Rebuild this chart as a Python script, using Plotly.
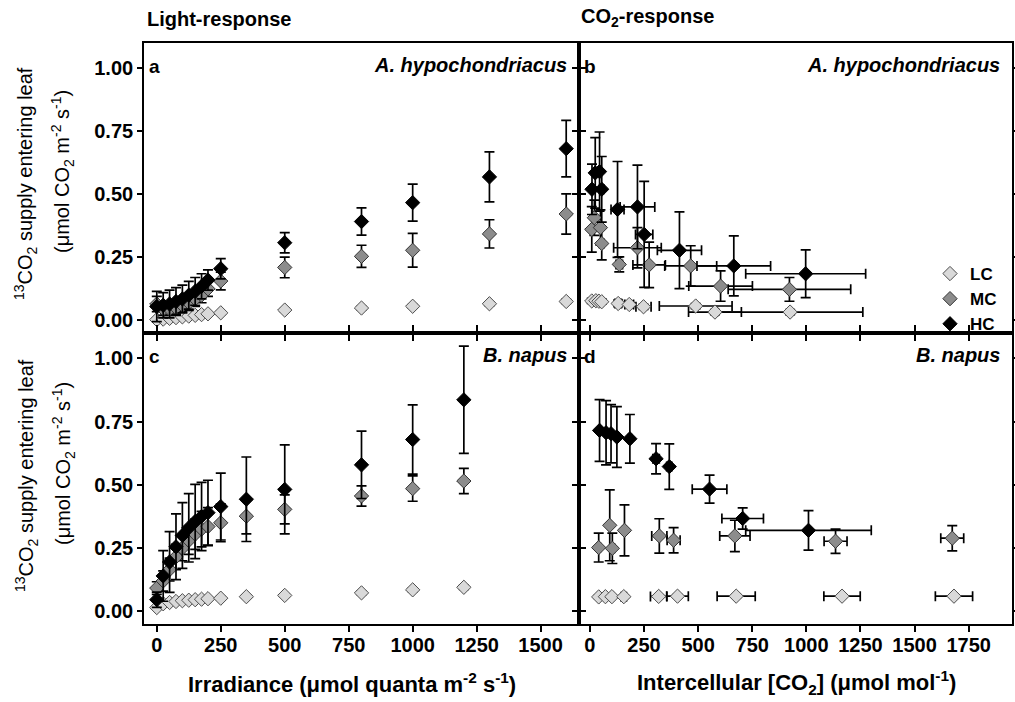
import plotly.graph_objects as go

# ---------------- Light response (irradiance, umol quanta m-2 s-1) ----------------
irr_ah = [0, 25, 50, 75, 100, 125, 150, 175, 200, 250, 500, 800, 1000, 1300, 1600]
ah_lc = [0.003, 0.005, 0.008, 0.011, 0.014, 0.017, 0.02, 0.023, 0.026, 0.03, 0.041, 0.049, 0.056, 0.066, 0.075]
ah_lc_err = [0.004, 0.004, 0.004, 0.004, 0.004, 0.005, 0.005, 0.005, 0.005, 0.006, 0.006, 0.007, 0.007, 0.008, 0.008]
ah_mc = [0.065, 0.045, 0.045, 0.05, 0.06, 0.07, 0.085, 0.1, 0.125, 0.156, 0.21, 0.254, 0.278, 0.343, 0.422]
ah_mc_err = [0.03, 0.025, 0.025, 0.025, 0.025, 0.03, 0.03, 0.03, 0.03, 0.035, 0.041, 0.044, 0.067, 0.056, 0.08]
ah_hc = [0.055, 0.06, 0.065, 0.075, 0.085, 0.1, 0.115, 0.135, 0.16, 0.205, 0.308, 0.392, 0.467, 0.569, 0.681]
ah_hc_err = [0.06, 0.05, 0.055, 0.055, 0.055, 0.055, 0.055, 0.05, 0.04, 0.04, 0.04, 0.054, 0.073, 0.099, 0.112]

irr_bn = [0, 25, 50, 75, 100, 125, 150, 175, 200, 250, 350, 500, 800, 1000, 1200]
bn_lc = [0.015, 0.03, 0.035, 0.039, 0.042, 0.044, 0.046, 0.048, 0.05, 0.052, 0.058, 0.063, 0.073, 0.085, 0.095]
bn_lc_err = [0.005, 0.005, 0.005, 0.005, 0.005, 0.005, 0.005, 0.005, 0.005, 0.006, 0.006, 0.006, 0.007, 0.007, 0.008]
bn_mc = [0.092, 0.12, 0.165, 0.215, 0.25, 0.28, 0.305, 0.325, 0.335, 0.35, 0.376, 0.403, 0.456, 0.485, 0.515]
bn_mc_err = [0.025, 0.04, 0.045, 0.05, 0.05, 0.055, 0.06, 0.07, 0.075, 0.075, 0.07, 0.057, 0.04, 0.05, 0.05]
bn_hc = [0.046, 0.14, 0.195, 0.255, 0.3, 0.33, 0.355, 0.375, 0.39, 0.414, 0.443, 0.482, 0.579, 0.679, 0.836]
bn_hc_err = [0.03, 0.1, 0.12, 0.13, 0.13, 0.135, 0.147, 0.135, 0.128, 0.132, 0.167, 0.176, 0.133, 0.137, 0.212]

# ---------------- CO2 response (intercellular CO2, umol mol-1) ----------------
ci_ah_lc = [9, 28, 42, 55, 131, 182, 248, 489, 578, 925]
ci_ah_lc_err = [3, 5, 5, 6, 15, 20, 35, 168, 122, 336]
ah_co2_lc = [0.077, 0.078, 0.076, 0.074, 0.067, 0.063, 0.054, 0.057, 0.033, 0.033]
ah_co2_lc_err = [0.01, 0.01, 0.01, 0.01, 0.013, 0.01, 0.01, 0.01, 0.01, 0.01]

ci_ah_mc = [9, 21, 49, 55, 136, 220, 274, 466, 604, 922]
ci_ah_mc_err = [5, 6, 8, 10, 15, 110, 75, 120, 147, 283]
ah_co2_mc = [0.361, 0.407, 0.368, 0.305, 0.222, 0.288, 0.22, 0.216, 0.136, 0.123]
ah_co2_mc_err = [0.09, 0.07, 0.07, 0.065, 0.03, 0.08, 0.09, 0.08, 0.06, 0.047]

ci_ah_hc = [10, 25, 45, 55, 128, 220, 251, 414, 665, 997]
ci_ah_hc_err = [4, 6, 8, 10, 30, 80, 40, 102, 170, 277]
ah_co2_hc = [0.52, 0.585, 0.59, 0.52, 0.44, 0.45, 0.341, 0.278, 0.216, 0.185]
ah_co2_hc_err = [0.10, 0.14, 0.157, 0.13, 0.19, 0.166, 0.21, 0.152, 0.119, 0.095]

ci_bn_lc = [41, 72, 102, 157, 318, 405, 676, 1165, 1682]
ci_bn_lc_err = [5, 6, 6, 12, 38, 50, 88, 84, 86]
bn_co2_lc = [0.057, 0.058, 0.058, 0.058, 0.059, 0.06, 0.06, 0.06, 0.06]
bn_co2_lc_err = [0.006, 0.006, 0.006, 0.006, 0.006, 0.006, 0.006, 0.006, 0.006]

ci_bn_mc = [41, 92, 104, 160, 321, 387, 670, 1135, 1674]
ci_bn_mc_err = [8, 6, 10, 8, 35, 30, 70, 53, 53]
bn_co2_mc = [0.252, 0.34, 0.249, 0.32, 0.298, 0.281, 0.298, 0.277, 0.289]
bn_co2_mc_err = [0.057, 0.14, 0.06, 0.101, 0.068, 0.05, 0.062, 0.048, 0.05]

ci_bn_hc = [45, 75, 98, 125, 185, 306, 367, 553, 706, 1010]
ci_bn_hc_err = [5, 5, 6, 6, 8, 15, 12, 80, 96, 290]
bn_co2_hc = [0.715, 0.706, 0.702, 0.689, 0.682, 0.603, 0.572, 0.483, 0.367, 0.32]
bn_co2_hc_err = [0.122, 0.127, 0.115, 0.12, 0.096, 0.06, 0.09, 0.055, 0.042, 0.078]

y_ticks = [0, 0.25, 0.5, 0.75, 1.0]
x_ticks_light = [0, 250, 500, 750, 1000, 1250, 1500]
x_ticks_co2 = [0, 250, 500, 750, 1000, 1250, 1500, 1750]

FONT = "Liberation Sans, Arial, sans-serif"
STYLE = {
    "LC": dict(fill="#d9d9d9", edge="#4d4d4d"),
    "MC": dict(fill="#8c8c8c", edge="#333333"),
    "HC": dict(fill="#000000", edge="#000000"),
}

fig = go.Figure()


def err(arr):
    return dict(type="data", array=arr, visible=True, color="black", thickness=1.7, width=5)


def add_series(name, x, y, yerr, xa, ya, xerr=None, show=False):
    kw = {}
    if xerr is not None:
        kw["error_x"] = err(xerr)
    fig.add_trace(go.Scatter(
        x=x, y=y, mode="markers", name=name, legendgroup=name, showlegend=show,
        marker=dict(symbol="diamond", size=11, color=STYLE[name]["fill"],
                    line=dict(color=STYLE[name]["edge"], width=1)),
        error_y=err(yerr), xaxis=xa, yaxis=ya, **kw))


# panel a
add_series("LC", irr_ah, ah_lc, ah_lc_err, "x", "y")
add_series("MC", irr_ah, ah_mc, ah_mc_err, "x", "y")
add_series("HC", irr_ah, ah_hc, ah_hc_err, "x", "y")
# panel b
add_series("LC", ci_ah_lc, ah_co2_lc, ah_co2_lc_err, "x2", "y2", ci_ah_lc_err, show=True)
add_series("MC", ci_ah_mc, ah_co2_mc, ah_co2_mc_err, "x2", "y2", ci_ah_mc_err, show=True)
add_series("HC", ci_ah_hc, ah_co2_hc, ah_co2_hc_err, "x2", "y2", ci_ah_hc_err, show=True)
# panel c
add_series("LC", irr_bn, bn_lc, bn_lc_err, "x3", "y3")
add_series("MC", irr_bn, bn_mc, bn_mc_err, "x3", "y3")
add_series("HC", irr_bn, bn_hc, bn_hc_err, "x3", "y3")
# panel d
add_series("LC", ci_bn_lc, bn_co2_lc, bn_co2_lc_err, "x4", "y4", ci_bn_lc_err)
add_series("MC", ci_bn_mc, bn_co2_mc, bn_co2_mc_err, "x4", "y4", ci_bn_mc_err)
add_series("HC", ci_bn_hc, bn_co2_hc, bn_co2_hc_err, "x4", "y4", ci_bn_hc_err)

# plot area spans 144..1012 px horizontally and 43..624 px vertically
W, H = 1015, 702
L, R, T, B = 144, 3, 43, 78
PW, PH = W - L - R, H - T - B
XSPLIT = 435 / PW
YSPLIT = 291 / PH


def px(xp):
    return (xp - L) / PW


def py(yp):
    return (H - B - yp) / PH


X_LIGHT = [-50, 1650]
X_CO2 = [-50, 1950]
Y_RANGE = [-0.05, 1.10]

TICKFONT = dict(family=FONT, size=20, color="black", weight="bold")
base = dict(showline=True, linecolor="black", linewidth=1.6, mirror="ticks",
            ticks="outside", ticklen=6, tickwidth=1.5, tickcolor="black",
            showgrid=False, zeroline=False, tickfont=TICKFONT, automargin=False)

# inward-pointing ticks along the top edge of the upper panels
inner = dict(showline=True, linecolor="black", linewidth=1.6, ticks="inside", ticklen=7,
             tickwidth=1.5, tickcolor="black", showgrid=False, zeroline=False,
             showticklabels=False, automargin=False)

xl = dict(base, range=X_LIGHT, tickvals=x_ticks_light, domain=[0, XSPLIT], ticklabelstandoff=-4)
xr = dict(base, range=X_CO2, tickvals=x_ticks_co2, domain=[XSPLIT, 1], ticklabelstandoff=-4)
yt = dict(base, range=Y_RANGE, tickvals=y_ticks, tickformat=".2f", domain=[YSPLIT, 1], ticklen=5)
yb = dict(base, range=Y_RANGE, tickvals=y_ticks, tickformat=".2f", domain=[0, YSPLIT], ticklen=5)

fig.update_layout(
    width=W, height=H, margin=dict(l=L, r=R, t=T, b=B, autoexpand=False),
    paper_bgcolor="white", plot_bgcolor="white",
    font=dict(family=FONT, color="black"),
    xaxis=dict(xl, anchor="y", showticklabels=False, mirror=True),
    xaxis2=dict(xr, anchor="y2", showticklabels=False, mirror=True),
    xaxis3=dict(xl, anchor="y3", showticklabels=True),
    xaxis4=dict(xr, anchor="y4", showticklabels=True),
    yaxis=dict(yt, anchor="x", showticklabels=True),
    yaxis2=dict(yt, anchor="x2", showticklabels=False),
    yaxis3=dict(yb, anchor="x3", showticklabels=True),
    yaxis4=dict(yb, anchor="x4", showticklabels=False),
    xaxis5=dict(inner, overlaying="x", anchor="y", side="top", range=X_LIGHT, tickvals=x_ticks_light),
    xaxis6=dict(inner, overlaying="x2", anchor="y2", side="top", range=X_CO2, tickvals=x_ticks_co2),
    legend=dict(x=px(930), y=py(256), xanchor="left", yanchor="top",
                bgcolor="rgba(0,0,0,0)", borderwidth=0, tracegroupgap=0,
                font=dict(family=FONT, size=17, color="black", weight="bold")),
    showlegend=True,
)

ann = []
panels = [("a", "A. hypochondriacus", "x", "y"), ("b", "A. hypochondriacus", "x2", "y2"),
          ("c", "B. napus", "x3", "y3"), ("d", "B. napus", "x4", "y4")]
for letter, species, xa, ya in panels:
    ann.append(dict(text=letter, xref=f"{xa} domain", yref=f"{ya} domain", x=0.008, y=0.92,
                    xanchor="left", yanchor="middle", showarrow=False,
                    font=dict(family=FONT, size=19, color="black", weight="bold")))
    ann.append(dict(text=f"<i>{species}</i>", xref=f"{xa} domain", yref=f"{ya} domain",
                    x=0.977, y=0.925, xanchor="right", yanchor="middle", showarrow=False,
                    font=dict(family=FONT, size=20, color="black", weight="bold")))

head_font = dict(family=FONT, size=20, color="black", weight="bold")
ann.append(dict(text="Light-response", xref="paper", yref="paper", x=px(145), y=py(19),
                xanchor="left", yanchor="middle", showarrow=False, font=head_font))
ann.append(dict(text="CO<sub>2</sub>-response", xref="paper", yref="paper", x=px(579), y=py(17),
                xanchor="left", yanchor="middle", showarrow=False, font=head_font))

xt_font = dict(family=FONT, size=22, color="black", weight="bold")
ann.append(dict(text="Irradiance (\u03bcmol quanta m<sup>-2</sup> s<sup>-1</sup>)", xref="paper", yref="paper",
                x=px(352), y=py(683), xanchor="center", yanchor="middle", showarrow=False, font=xt_font))
ann.append(dict(text="Intercellular [CO<sub>2</sub>] (\u03bcmol mol<sup>-1</sup>)", xref="paper", yref="paper",
                x=px(796), y=py(683), xanchor="center", yanchor="middle", showarrow=False, font=xt_font))

yt_font = dict(family=FONT, size=20, color="black")
for ycen in (184, 476):
    ann.append(dict(text="<sup>13</sup>CO<sub>2</sub> supply entering leaf", xref="paper", yref="paper",
                    x=px(26), y=py(ycen), xanchor="center", yanchor="middle", textangle=-90,
                    showarrow=False, font=yt_font))
    ann.append(dict(text="(\u03bcmol CO<sub>2</sub> m<sup>-2</sup> s<sup>-1</sup>)", xref="paper", yref="paper",
                    x=px(63), y=py(ycen - 12), xanchor="center", yanchor="middle", textangle=-90,
                    showarrow=False, font=yt_font))

fig.update_layout(annotations=ann)
fig.write_html("out.html")
